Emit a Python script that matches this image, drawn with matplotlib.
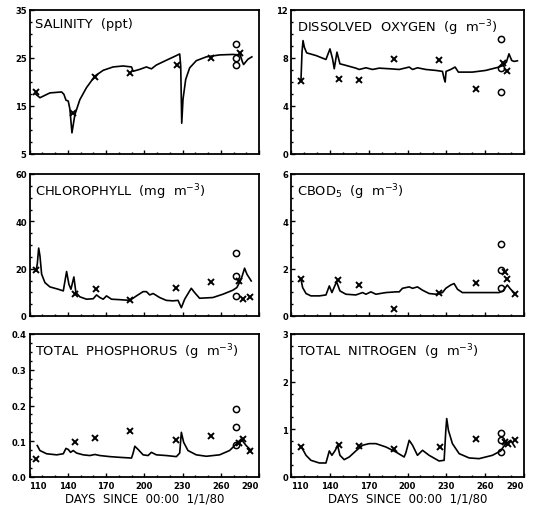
import numpy as np
import matplotlib
matplotlib.use("Agg")
import matplotlib.pyplot as plt
from matplotlib.ticker import FixedLocator, MultipleLocator, FormatStrFormatter

plt.rcParams['font.family'] = ['DejaVu Sans']
plt.rcParams['mathtext.default'] = 'regular'

x_ticks = [110, 140, 170, 200, 230, 260, 290]

# ---- salinity ----
sal_day = [115.1, 118.2, 126.0, 135.2, 137.0, 138.6, 140.4, 141.7, 143.3, 145.6, 149.5, 154.7,
           161.3, 167.8, 175.6, 183.4, 190.0, 191.3, 196.5, 201.7, 205.6, 209.5, 217.4, 223.9,
           227.8, 228.6, 229.4, 230.4, 232.5, 235.6, 240.8, 248.7, 259.1, 269.5, 275.3, 276.8,
           277.9, 281.3, 284.4]
sal_val = [17.4, 16.7, 17.7, 17.9, 17.4, 16.2, 16.0, 14.3, 9.4, 13.2, 16.3, 18.8,
           21.2, 22.4, 23.1, 23.3, 23.1, 22.2, 22.6, 23.1, 22.7, 23.5, 24.5, 25.3,
           25.8, 23.3, 11.4, 16.4, 20.5, 22.9, 24.4, 25.2, 25.6, 25.7, 25.6, 24.3,
           23.6, 24.7, 25.2]
sal_xd = [115.1, 143.8, 161.3, 188.7, 225.7, 252.6, 274.8]
sal_xv = [17.9, 13.6, 21.1, 21.8, 23.6, 24.9, 26.0]
sal_od = [271.6, 271.6, 271.6]
sal_ov = [27.9, 25.0, 23.4]
sal_ticks = [5, 15, 25, 35]

# ---- dissolved oxygen ----
do_day = [117.7, 118.5, 119.3, 120.3, 122.1, 129.3, 137.0, 140.1, 142.1, 143.4, 145.5, 147.8,
          152.4, 160.1, 162.7, 167.9, 173.0, 178.1, 185.9, 193.6, 201.3, 203.9, 207.7, 214.1,
          221.9, 227.0, 228.3, 229.1, 229.8, 233.4, 236.8, 239.3, 250.1, 260.4, 270.7, 273.8,
          276.4, 278.4, 280.5, 282.3, 284.9]
do_val = [6.12, 8.47, 9.43, 8.88, 8.41, 8.19, 7.86, 8.74, 7.92, 7.09, 8.47, 7.5,
          7.37, 7.14, 7.03, 7.17, 7.03, 7.14, 7.09, 7.03, 7.23, 7.03, 7.17, 7.03,
          6.95, 6.87, 6.26, 5.99, 6.87, 7.03, 7.23, 6.81, 6.81, 6.95, 7.23, 7.37,
          7.64, 8.33, 7.78, 7.70, 7.75]
do_xd = [117.7, 146.8, 162.2, 189.2, 224.4, 252.7, 274.0, 277.1]
do_xv = [6.07, 6.21, 6.12, 7.86, 7.83, 5.43, 7.6, 6.9]
do_od = [272.0, 272.0, 272.0]
do_ov = [9.57, 7.17, 5.16]
do_ticks = [0, 4, 8, 12]

# ---- chlorophyll ----
chl_day = [115.1, 116.1, 117.2, 118.2, 119.5, 122.1, 126.0, 132.6, 136.5, 139.1, 140.9, 142.5,
           144.8, 146.4, 149.5, 154.7, 160.0, 162.6, 165.2, 167.8, 170.4, 174.3, 180.8, 188.7,
           193.9, 199.1, 201.7, 204.3, 207.0, 212.1, 217.3, 222.5, 226.5, 229.1, 231.7, 235.6,
           236.9, 239.5, 243.4, 253.8, 261.7, 269.5, 272.6, 276.0, 278.7, 280.5, 283.9]
chl_val = [19.1, 21.9, 28.7, 25.4, 17.7, 14.1, 12.3, 11.3, 10.6, 18.8, 13.4, 11.3,
           16.5, 9.9, 8.1, 7.1, 7.3, 8.9, 7.8, 7.1, 8.5, 7.1, 6.9, 6.6,
           8.5, 10.3, 10.3, 8.9, 9.5, 7.8, 6.6, 6.4, 6.6, 3.5, 7.1, 10.6,
           11.7, 9.9, 7.5, 7.8, 9.2, 10.9, 12.0, 15.5, 20.2, 17.7, 14.8]
chl_xd = [115.1, 145.6, 161.8, 189.2, 225.2, 252.6, 274.2, 277.3, 283.1]
chl_xv = [19.3, 9.5, 11.3, 6.6, 11.7, 14.5, 14.8, 7.1, 8.2]
chl_od = [271.6, 271.6, 271.6]
chl_ov = [26.6, 16.7, 8.5]
chl_ticks = [0, 20, 40, 60]

# ---- CBOD5 ----
bod_day = [117.7, 119.0, 121.6, 125.4, 131.9, 137.0, 139.6, 141.6, 145.2, 147.8, 152.4, 160.1,
           165.3, 167.9, 171.7, 175.6, 183.3, 191.0, 193.6, 196.1, 201.3, 203.9, 207.7, 211.6,
           216.7, 221.9, 227.0, 229.6, 233.4, 236.0, 238.6, 242.4, 250.1, 260.4, 270.7, 273.8,
           277.1, 279.7, 282.3]
bod_val = [1.55, 1.2, 0.95, 0.85, 0.85, 0.89, 1.27, 0.99, 1.45, 1.06, 0.92, 0.89,
           0.99, 0.92, 1.02, 0.92, 0.99, 1.02, 1.02, 1.17, 1.23, 1.17, 1.23, 1.09,
           0.95, 0.92, 0.99, 1.17, 1.31, 1.37, 1.13, 0.99, 0.99, 0.99, 0.99, 1.06,
           1.31, 1.13, 0.99]
bod_xd = [117.7, 146.0, 162.2, 189.2, 224.4, 252.7, 275.3, 277.1, 283.1]
bod_xv = [1.55, 1.51, 1.31, 0.31, 0.99, 1.38, 1.84, 1.55, 0.95]
bod_od = [272.0, 272.0, 272.0]
bod_ov = [3.06, 1.93, 1.17]
bod_ticks = [0, 2, 4, 6]

# ---- total phosphorus ----
tp_day = [116.1, 118.2, 123.4, 131.3, 136.5, 138.6, 140.4, 142.2, 144.3, 146.9, 152.1, 157.3,
          161.3, 165.2, 173.0, 180.8, 190.0, 191.3, 192.6, 195.2, 199.1, 203.0, 205.6, 209.5,
          217.4, 225.2, 227.8, 229.1, 230.9, 234.3, 240.8, 248.7, 259.1, 266.9, 272.1, 276.0,
          279.9, 283.9]
tp_val = [0.088, 0.074, 0.065, 0.062, 0.065, 0.080, 0.077, 0.069, 0.074, 0.067, 0.062, 0.060,
          0.063, 0.060, 0.057, 0.055, 0.053, 0.067, 0.086, 0.077, 0.062, 0.060, 0.069, 0.062,
          0.060, 0.057, 0.067, 0.125, 0.097, 0.074, 0.062, 0.058, 0.062, 0.074, 0.092, 0.106,
          0.088, 0.074]
tp_xd = [115.1, 145.6, 161.3, 188.7, 225.2, 252.6, 274.2, 277.3, 283.1]
tp_xv = [0.051, 0.099, 0.110, 0.129, 0.104, 0.114, 0.095, 0.106, 0.074]
tp_od = [272.1, 272.1, 272.1]
tp_ov = [0.191, 0.139, 0.090]
tp_ticks = [0.0, 0.1, 0.2, 0.3, 0.4]

# ---- total nitrogen ----
tn_day = [117.7, 119.5, 121.6, 125.4, 131.9, 137.0, 139.6, 141.6, 144.2, 146.0, 147.8, 151.1,
          155.0, 160.1, 165.3, 170.4, 175.6, 183.3, 191.0, 197.4, 198.7, 201.3, 203.9, 207.7,
          211.6, 216.7, 224.4, 228.3, 229.6, 230.3, 231.6, 234.7, 239.9, 247.6, 255.3, 265.6,
          272.0, 275.8, 279.7, 283.0]
tn_val = [0.645, 0.56, 0.455, 0.35, 0.294, 0.294, 0.547, 0.455, 0.56, 0.666, 0.455, 0.364,
          0.42, 0.547, 0.666, 0.70, 0.70, 0.63, 0.525, 0.42, 0.505, 0.77, 0.666, 0.455,
          0.56, 0.455, 0.336, 0.35, 0.98, 1.226, 0.98, 0.70, 0.49, 0.40, 0.385, 0.455,
          0.547, 0.70, 0.77, 0.63]
tn_xd = [117.7, 146.8, 162.2, 189.7, 224.9, 253.2, 275.3, 278.0, 283.0]
tn_xv = [0.63, 0.666, 0.645, 0.58, 0.63, 0.79, 0.735, 0.70, 0.785]
tn_od = [272.0, 272.0, 272.0]
tn_ov = [0.925, 0.77, 0.525]
tn_ticks = [0, 1, 2, 3]

panels = [
    ("SALINITY  (ppt)", sal_day, sal_val, sal_xd, sal_xv, sal_od, sal_ov, sal_ticks, 2.5, '%d'),
    ("DISSOLVED  OXYGEN  (g  m$^{-3}$)", do_day, do_val, do_xd, do_xv, do_od, do_ov, do_ticks, 1, '%d'),
    ("CHLOROPHYLL  (mg  m$^{-3}$)", chl_day, chl_val, chl_xd, chl_xv, chl_od, chl_ov, chl_ticks, 5, '%d'),
    ("CBOD$_5$  (g  m$^{-3}$)", bod_day, bod_val, bod_xd, bod_xv, bod_od, bod_ov, bod_ticks, 0.5, '%d'),
    ("TOTAL  PHOSPHORUS  (g  m$^{-3}$)", tp_day, tp_val, tp_xd, tp_xv, tp_od, tp_ov, tp_ticks, 0.025, '%.1f'),
    ("TOTAL  NITROGEN  (g  m$^{-3}$)", tn_day, tn_val, tn_xd, tn_xv, tn_od, tn_ov, tn_ticks, 0.25, '%d'),
]

W, H = 535, 506
fig = plt.figure(figsize=(W / 100, H / 100), dpi=100)

# axes boxes in pixels (left, right, top, bottom)
cols = [(29.5, 259), (291, 524)]
rows = [(10.7, 155), (175, 317), (335, 478)]

for i, (title, d, v, xd, xv, od, ov, yt, ymin, fmt) in enumerate(panels):
    c = cols[i % 2]
    r = rows[i // 2]
    ax = fig.add_axes([c[0] / W, 1 - r[1] / H, (c[1] - c[0]) / W, (r[1] - r[0]) / H])
    ax.plot(d, v, color='black', lw=1.2)
    ax.plot(xd, xv, ls='none', marker='x', ms=4, mew=1.4, color='black')
    ax.plot(od, ov, ls='none', marker='o', ms=4.5, mfc='none', mec='black', mew=1.1)
    ax.set_xlim(110, 290)
    ax.set_ylim(yt[0], yt[-1])
    ax.xaxis.set_major_locator(FixedLocator(x_ticks))
    ax.xaxis.set_minor_locator(MultipleLocator(10))
    ax.yaxis.set_major_locator(FixedLocator(yt))
    ax.yaxis.set_minor_locator(MultipleLocator(ymin))
    ax.yaxis.set_major_formatter(FormatStrFormatter(fmt))
    ax.tick_params(which='both', direction='in', top=False, right=False, width=1.0)
    ax.tick_params(which='major', length=3, labelsize=6, pad=2)
    ax.tick_params(which='minor', length=1.5)
    for lab in ax.get_yticklabels() + ax.get_xticklabels():
        lab.set_fontweight('bold')
    for s in ax.spines.values():
        s.set_linewidth(1.3)
    if i < 4:
        ax.tick_params(labelbottom=False)
    else:
        ax.tick_params(axis='x', pad=3)
        xl = ax.get_xticklabels()
        xl[0].set_horizontalalignment('left')
        xl[-1].set_horizontalalignment('right')
        ax.set_xlabel("DAYS  SINCE  00:00  1/1/80", fontsize=8.5, labelpad=1)
    ax.text(0.025, 0.95, title, transform=ax.transAxes, ha='left', va='top', fontsize=9.4)

fig.savefig("out.png", dpi=100)
